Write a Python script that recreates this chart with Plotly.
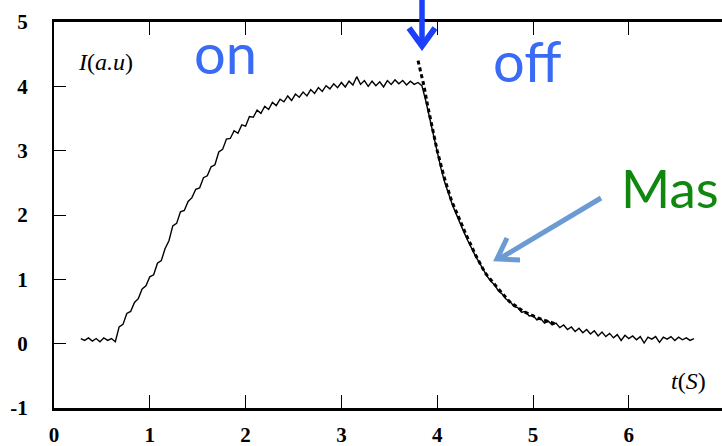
import plotly.graph_objects as go

# ---- data ----
t_start = 0.28          # first sample time (s)
t_step = 0.04           # sampling step (s)

intensity_on = [
    0.08, 0.05, 0.09, 0.04, 0.08, 0.03, 0.09, 0.05, 0.08, 0.03,
    0.26, 0.30, 0.47, 0.50, 0.64, 0.70, 0.85, 0.90, 1.04, 1.07,
    1.25, 1.29, 1.48, 1.60, 1.83, 1.87, 2.05, 2.07, 2.21, 2.27,
    2.40, 2.42, 2.58, 2.61, 2.75, 2.78, 2.98, 3.02, 3.18, 3.19,
    3.31, 3.27, 3.40, 3.38, 3.53, 3.52, 3.63, 3.58, 3.69, 3.64,
    3.75, 3.70, 3.80, 3.76, 3.85, 3.78, 3.88, 3.83, 3.91, 3.85,
    3.95, 3.89, 3.98, 3.92, 4.01, 3.96, 4.04, 3.98, 4.06, 3.99,
    4.08, 4.02, 4.15, 4.03, 4.09, 4.00, 4.08, 4.01, 4.07, 3.99,
    4.09, 4.03, 4.10, 4.04, 4.09, 4.02, 4.08, 4.03, 4.06, 4.01,
]
intensity_off = [
    3.78, 3.52, 3.22, 2.98, 2.72, 2.50, 2.32, 2.15, 2.01, 1.86,
    1.73, 1.60, 1.47, 1.36, 1.26, 1.15, 1.05, 0.97, 0.91, 0.82,
    0.77, 0.69, 0.66, 0.58, 0.56, 0.49, 0.50, 0.43, 0.44, 0.37,
    0.39, 0.32, 0.35, 0.29, 0.32, 0.25, 0.29, 0.22, 0.26, 0.19,
    0.24, 0.17, 0.22, 0.15, 0.20, 0.12, 0.18, 0.11, 0.16, 0.09,
    0.14, 0.05, 0.13, 0.08, 0.12, 0.06, 0.11, 0.01, 0.10, 0.07,
    0.11, 0.02, 0.10, 0.07, 0.11, 0.05, 0.10, 0.06, 0.09, 0.05,
    0.08,
]

fit_t = [3.80, 3.83, 3.86, 3.90, 3.95, 4.00, 4.07, 4.15, 4.22, 4.30,
         4.40, 4.50, 4.60, 4.75, 4.90, 5.05, 5.25]
fit_i = [4.40, 4.22, 4.02, 3.70, 3.32, 3.00, 2.60, 2.22, 1.98, 1.70,
         1.38, 1.10, 0.92, 0.66, 0.50, 0.40, 0.30]

x_ticks = [0, 1, 2, 3, 4, 5, 6]
y_ticks = [-1, 0, 1, 2, 3, 4, 5]

# ---- build ----
intensity = intensity_on + intensity_off
times = [round(t_start + t_step * k, 3) for k in range(len(intensity))]

W, H = 722, 446
L, R, T, B = 54, 0, 22, 38
pw, ph = W - L - R, H - T - B


def px(x):
    return (x - L) / pw


def py(y):
    return (H - B - y) / ph


fig = go.Figure()
fig.add_trace(go.Scatter(x=times, y=intensity, mode="lines",
                         line=dict(color="black", width=1.4),
                         showlegend=False, hoverinfo="skip"))
fig.add_trace(go.Scatter(x=fit_t, y=fit_i, mode="lines",
                         line=dict(color="black", width=3, dash="4px,3px"),
                         showlegend=False, hoverinfo="skip"))

serif = "Liberation Serif"
sans = "Lato"

fig.update_layout(
    width=W, height=H,
    margin=dict(l=L, r=R, t=T, b=B, pad=0, autoexpand=False),
    paper_bgcolor="white", plot_bgcolor="white",
    showlegend=False,
    xaxis=dict(range=[0, pw / 95.8], tickvals=x_ticks,
               ticktext=[str(v) for v in x_ticks],
               showgrid=False, zeroline=False, automargin=False,
               showline=True, linecolor="black", linewidth=2.5,
               mirror="ticks", ticks="inside", ticklen=13, tickwidth=1.3,
               tickcolor="black", ticklabelstandoff=6,
               tickfont=dict(family=serif, size=21, color="black", weight="bold")),
    yaxis=dict(range=[-1.0, 5.0], tickvals=y_ticks,
               ticktext=[str(v) for v in y_ticks],
               showgrid=False, zeroline=False, automargin=False,
               showline=True, linecolor="black", linewidth=2,
               ticks="inside", ticklen=12, tickwidth=1.3, tickcolor="black",
               ticklabelstandoff=20,
               tickfont=dict(family=serif, size=21, color="black", weight="bold")),
)

ann = [
    dict(x=px(105), y=py(62), text="<i>I</i>(<i>a.u</i>)",
         font=dict(family=serif, size=24, color="black")),
    dict(x=px(688), y=py(381), text="<i>t</i>(<i>S</i>)",
         font=dict(family=serif, size=24, color="black")),
    dict(x=px(226), y=py(53), text="on",
         font=dict(family=sans, size=56, color="#3a6bf5")),
    dict(x=px(527), y=py(60), text="off",
         font=dict(family=sans, size=56, color="#3a6bf5")),
    dict(x=px(619), y=py(187), text="Mas", xanchor="left",
         font=dict(family=sans, size=53, color="#10870f")),
]
for a in ann:
    a.setdefault("xanchor", "center")
    fig.add_annotation(xref="paper", yref="paper", yanchor="middle",
                       showarrow=False, **a)

# dark blue "switch off" arrow
blue = "#1b3ffb"
fig.add_shape(type="line", xref="paper", yref="paper",
              x0=px(422), y0=py(-5), x1=px(422), y1=py(44),
              line=dict(color=blue, width=5.5))
fig.add_shape(type="path", xref="paper", yref="paper",
              path=f"M {px(409)},{py(28)} L {px(422)},{py(46)} L {px(435)},{py(28)}",
              line=dict(color=blue, width=6))

# light blue pointer arrow
lb = "#6b9bd2"
fig.add_shape(type="line", xref="paper", yref="paper",
              x0=px(601), y0=py(198), x1=px(499), y1=py(259),
              line=dict(color=lb, width=5))
fig.add_shape(type="path", xref="paper", yref="paper",
              path=f"M {px(507)},{py(238)} L {px(497)},{py(259)} L {px(520)},{py(260)}",
              line=dict(color=lb, width=5))

fig.write_html("out.html",
               config={"displayModeBar": False},
               post_script="document.body.style.margin='0';document.body.style.overflow='hidden';")
